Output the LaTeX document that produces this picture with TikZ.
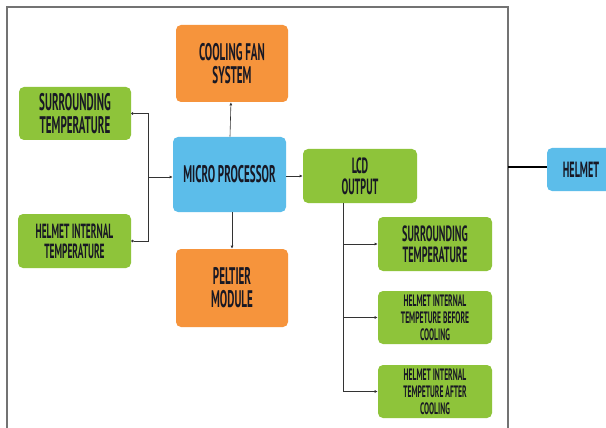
\documentclass[tikz,border=0pt]{standalone}
\usepackage{fontspec}
\usetikzlibrary{arrows.meta}
\newfontfamily\boxfont{PT Sans}[FakeStretch=0.46]
\definecolor{boxgreen}{RGB}{142,196,58}
\definecolor{boxorange}{RGB}{246,148,60}
\definecolor{boxblue}{RGB}{92,189,234}
\definecolor{boxtext}{RGB}{24,24,36}

\begin{document}
\begin{tikzpicture}
            [x=1pt,y=-1pt,line width=0.6pt,
             every node/.style={rounded corners=5pt,align=center,text=boxtext,
               font=\boxfont\bfseries\fontsize{24}{23}\selectfont,inner sep=0pt},
             greenbox/.style={fill=boxgreen,minimum width=113pt,minimum height=54pt},
             orangebox/.style={fill=boxorange,minimum width=112pt,minimum height=77pt},
             bluebox/.style={fill=boxblue},
             smalltext/.style={font=\boxfont\bfseries\fontsize{16.5}{17}\selectfont},
             link/.style={draw=black!80,-{Latex[length=3pt,width=3pt]}}]
            \clip (0,0) rectangle (606,428);
            \fill[white] (0,0) rectangle (606,428);
            \draw[black!55,line width=1.3pt] (7,430) -- (7,7) -- (508,7) -- (508,430);

            \node[orangebox] (fan) at (232,63.5) {COOLING FAN\\SYSTEM};
            \node[bluebox,minimum width=113pt,minimum height=75pt] (cpu) at (229.5,174.5) {MICRO PROCESSOR};
            \node[orangebox,minimum height=78pt] (peltier) at (232,288) {PELTIER\\MODULE};
            \node[greenbox,minimum width=112pt,minimum height=53pt] (surrL) at (75,113.5) {SURROUNDING\\TEMPERATURE};
            \node[greenbox,font=\boxfont\bfseries\fontsize{20.5}{20}\selectfont] (helmL) at (74.5,241) {HELMET INTERNAL\\TEMPERATURE};
            \node[greenbox,minimum width=114pt,font=\boxfont\bfseries\fontsize{22}{21}\selectfont] (lcd) at (360,176) {LCD\\OUTPUT};
            \node[greenbox,minimum width=114pt,font=\boxfont\bfseries\fontsize{22}{21}\selectfont] (surrR) at (435,244) {SURROUNDING\\TEMPERATURE};
            \node[greenbox,smalltext,minimum width=114pt,minimum height=53pt] (before) at (435,317.5) {HELMET INTERNAL\\TEMPETURE BEFORE\\COOLING};
            \node[greenbox,smalltext,minimum width=114pt,minimum height=53pt] (after) at (435,391.5) {HELMET INTERNAL\\TEMPETURE AFTER\\COOLING};
            \node[bluebox,minimum width=68pt,minimum height=43pt,font=\boxfont\bfseries\fontsize{22}{21}\selectfont] (helmet) at (581,169.5) {HELMET};

            \coordinate (jin) at (148,177);
            \coordinate (jout) at (343,203);
            \coordinate (rim) at (508,167);

            \draw[link] (cpu.north) ++(0.5,0) -- (fan);
            \draw[link] (cpu.south) ++(2.5,0) -- (peltier);
            \draw[link] (cpu.east |- lcd) -- (lcd.west);
            \draw[draw=black!80,{Circle[length=2.5pt]}-] (surrL.east) -| (jin);
            \draw[draw=black!80,{Circle[length=2.5pt]}-] (helmL.east) -| (jin);
            \draw[link] (jin) -- (cpu.west |- jin);
            \draw[draw=black!80] (jout) -- (jout |- after);
            \draw[link] (jout |- surrR) -- (surrR.west);
            \draw[link] (jout |- before) -- (before.west);
            \draw[link] (jout |- after) -- (after.west);
            \draw[line width=1.2pt] (rim) -- (helmet.west |- rim);

        \end{tikzpicture}
\end{document}
